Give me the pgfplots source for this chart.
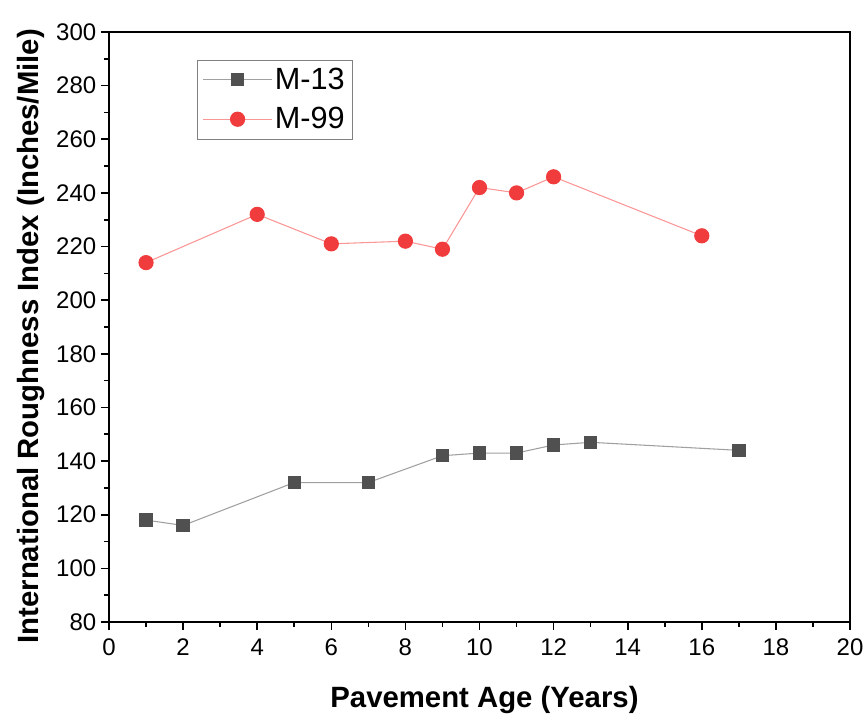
\documentclass[border=0pt]{standalone}
\usepackage{pgfplots}
\pgfplotsset{compat=1.18}
\usepackage{fontspec}
\setmainfont{Liberation Sans}
\definecolor{mgray}{RGB}{80,80,80}
\definecolor{lgray}{RGB}{160,160,160}
\definecolor{mred}{RGB}{240,60,60}
\definecolor{lred}{RGB}{250,150,150}
\begin{document}
\begin{tikzpicture}
\begin{axis}[
  scale only axis,
  width=555.75pt, height=442.5pt,
  xmin=0, xmax=20, ymin=80, ymax=300,
  xtick={0,2,...,20}, ytick={80,100,...,300},
  minor x tick num=1, minor y tick num=1,
  axis lines=box,
  xtick pos=bottom, ytick pos=left,
  axis line style={line width=1.4pt,-},
  tick style={line width=1.2pt,black},
  tick align=outside,
  major tick length=6pt, minor tick length=3.5pt,
  /pgf/number format/assume math mode=true,
  ticklabel style={font=\fontsize{18pt}{20pt}\selectfont},
  xticklabel style={yshift=-3pt},
  xlabel={\textbf{Pavement Age (Years)}},
  ylabel={\textbf{International Roughness Index (Inches/Mile)}},
  label style={font=\fontsize{22pt}{25pt}\selectfont},
  xlabel style={yshift=-16pt, xshift=3.75pt},
  ylabel style={yshift=2pt, xshift=-7pt},
  legend style={at={(0.119,0.953)}, anchor=north west, draw=gray, line width=0.6pt,
     font=\fontsize{23pt}{27pt}\selectfont, row sep=8pt, inner sep=4pt},
  legend image code/.code={\draw[mark repeat=2,mark phase=2] plot coordinates {(0cm,0cm) (0.9cm,0cm) (1.8cm,0cm)};},
  legend cell align=left,
  clip=false,
]
\addplot[lgray, line width=0.8pt, mark=square*, mark size=4.6pt, mark options={fill=mgray, draw=mgray}]
coordinates {(1,118) (2,116) (5,132) (7,132) (9,142) (10,143) (11,143) (12,146) (13,147) (17,144)};
\addlegendentry{M-13}
\addplot[lred, line width=0.8pt, mark=*, mark size=5.3pt, mark options={fill=mred, draw=mred}]
coordinates {(1,214) (4,232) (6,221) (8,222) (9,219) (10,242) (11,240) (12,246) (16,224)};
\addlegendentry{M-99}
\end{axis}
\path[use as bounding box] ([xshift=-81.75pt,yshift=-75pt]current axis.south west) rectangle ([xshift=13.5pt,yshift=24pt]current axis.north east);
\end{tikzpicture}
\end{document}
